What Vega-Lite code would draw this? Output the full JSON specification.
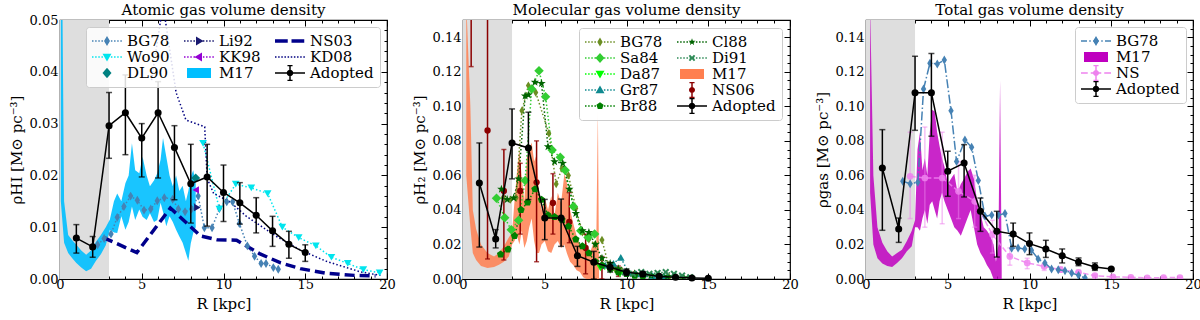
{
"$schema":"https://vega.github.io/schema/vega-lite/v6.json",
"background":"white",
"padding":{"left":8,"top":2,"right":0,"bottom":0},
"spacing":15,
"resolve":{"scale":{"color":"independent","shape":"independent"},"legend":{"color":"independent","shape":"independent"}},
"datasets":{
"p1":[
{"s":"Adopted","R":1,"v":0.0079,"lo":0.005,"hi":0.0105},
{"s":"Adopted","R":2,"v":0.0062,"lo":0.0042,"hi":0.0082},
{"s":"Adopted","R":3,"v":0.0296,"lo":0.0233,"hi":0.036},
{"s":"Adopted","R":4,"v":0.0321,"lo":0.024,"hi":0.0394},
{"s":"Adopted","R":5,"v":0.0272,"lo":0.0197,"hi":0.03},
{"s":"Adopted","R":6,"v":0.0321,"lo":0.0195,"hi":0.0381},
{"s":"Adopted","R":7,"v":0.0254,"lo":0.0153,"hi":0.0296},
{"s":"Adopted","R":8,"v":0.0184,"lo":0.0108,"hi":0.026},
{"s":"Adopted","R":9,"v":0.0197,"lo":0.0102,"hi":0.026},
{"s":"Adopted","R":10,"v":0.0167,"lo":0.0111,"hi":0.022},
{"s":"Adopted","R":11,"v":0.0147,"lo":0.0106,"hi":0.0186},
{"s":"Adopted","R":12,"v":0.0123,"lo":0.0089,"hi":0.0157},
{"s":"Adopted","R":13,"v":0.0093,"lo":0.0063,"hi":0.0121},
{"s":"Adopted","R":14,"v":0.0067,"lo":0.004,"hi":0.0092},
{"s":"Adopted","R":15,"v":0.0051,"lo":0.0034,"hi":0.0066},
{"s":"BG78","R":2.3,"v":0.0066},{"s":"BG78","R":2.7,"v":0.0078},{"s":"BG78","R":3.12,"v":0.0087},{"s":"BG78","R":3.5,"v":0.0119},
{"s":"BG78","R":3.91,"v":0.014},{"s":"BG78","R":4.32,"v":0.016},{"s":"BG78","R":4.73,"v":0.0152},{"s":"BG78","R":5.14,"v":0.0133},
{"s":"BG78","R":5.55,"v":0.0135},{"s":"BG78","R":5.95,"v":0.0151},{"s":"BG78","R":6.38,"v":0.0157},{"s":"BG78","R":6.89,"v":0.0154},
{"s":"BG78","R":7.24,"v":0.0135},{"s":"BG78","R":7.65,"v":0.013},{"s":"BG78","R":8.05,"v":0.0135},{"s":"BG78","R":8.45,"v":0.016},
{"s":"BG78","R":8.83,"v":0.0099},{"s":"BG78","R":9.3,"v":0.0099},{"s":"BG78","R":9.75,"v":0.0136},{"s":"BG78","R":10.2,"v":0.0149},
{"s":"BG78","R":10.56,"v":0.0149},{"s":"BG78","R":10.97,"v":0.0107},{"s":"BG78","R":11.46,"v":0.0064},{"s":"BG78","R":11.9,"v":0.0044},
{"s":"BG78","R":12.3,"v":0.003},{"s":"BG78","R":12.6,"v":0.003},{"s":"BG78","R":13.05,"v":0.0022},{"s":"BG78","R":13.35,"v":0.0019},
{"s":"Wo90","R":8.75,"v":0.0262},{"s":"Wo90","R":9.75,"v":0.0135},{"s":"Wo90","R":10.75,"v":0.0183},{"s":"Wo90","R":11.7,"v":0.0176},
{"s":"Wo90","R":12.7,"v":0.0165},{"s":"Wo90","R":13.6,"v":0.01},{"s":"Wo90","R":14.6,"v":0.008},{"s":"Wo90","R":15.65,"v":0.0064},
{"s":"Wo90","R":16.6,"v":0.0042},{"s":"Wo90","R":17.6,"v":0.003},{"s":"Wo90","R":18.55,"v":0.0018},{"s":"Wo90","R":19.55,"v":0.0012},
{"s":"DL90","R":8.3,"v":0.0195},
{"s":"Li92","R":8.4,"v":0.0138},
{"s":"KK98","R":8.3,"v":0.0172},
{"s":"KD08","R":5.6,"v":0.0384},{"s":"KD08","R":6.3,"v":0.053},{"s":"KD08","R":7.1,"v":0.036},{"s":"KD08","R":7.7,"v":0.0307},
{"s":"KD08","R":8.85,"v":0.0294},{"s":"KD08","R":9.0,"v":0.0194},{"s":"KD08","R":9.4,"v":0.0165},{"s":"KD08","R":10.4,"v":0.0149},
{"s":"KD08","R":11.4,"v":0.0121},{"s":"KD08","R":13.25,"v":0.0082},{"s":"KD08","R":14.7,"v":0.0056},{"s":"KD08","R":16.3,"v":0.0034},
{"s":"KD08","R":18.35,"v":0.0014},{"s":"KD08","R":19.6,"v":0.0007},
{"s":"NS03","R":2.65,"v":0.008},{"s":"NS03","R":4.7,"v":0.0051},{"s":"NS03","R":6.75,"v":0.0137},{"s":"NS03","R":8.6,"v":0.0083},
{"s":"NS03","R":9.6,"v":0.0076},{"s":"NS03","R":10.8,"v":0.0075},{"s":"NS03","R":12.2,"v":0.0049},{"s":"NS03","R":13.5,"v":0.0031},
{"s":"NS03","R":14.7,"v":0.002},{"s":"NS03","R":16.3,"v":0.0011},{"s":"NS03","R":18.0,"v":0.0007},{"s":"NS03","R":19.3,"v":0.0006},
{"s":"M17","R":0.05,"lo":0.015,"hi":0.09},{"s":"M17","R":0.25,"lo":0.007,"hi":0.015},{"s":"M17","R":0.5,"lo":0.005,"hi":0.0085},
{"s":"M17","R":0.75,"lo":0.004,"hi":0.0075},{"s":"M17","R":1.0,"lo":0.0031,"hi":0.0066},{"s":"M17","R":1.3,"lo":0.0022,"hi":0.0055},
{"s":"M17","R":1.6,"lo":0.0015,"hi":0.0047},{"s":"M17","R":1.9,"lo":0.002,"hi":0.0055},{"s":"M17","R":2.2,"lo":0.0035,"hi":0.0072},
{"s":"M17","R":2.5,"lo":0.0048,"hi":0.0085},{"s":"M17","R":2.8,"lo":0.0065,"hi":0.01},{"s":"M17","R":3.05,"lo":0.0095,"hi":0.0115},
{"s":"M17","R":3.3,"lo":0.009,"hi":0.015},{"s":"M17","R":3.5,"lo":0.0089,"hi":0.0165},{"s":"M17","R":3.75,"lo":0.0121,"hi":0.015},
{"s":"M17","R":4.0,"lo":0.0095,"hi":0.0185},{"s":"M17","R":4.2,"lo":0.011,"hi":0.02},{"s":"M17","R":4.4,"lo":0.014,"hi":0.0262},
{"s":"M17","R":4.6,"lo":0.0114,"hi":0.021},{"s":"M17","R":4.85,"lo":0.0134,"hi":0.0204},{"s":"M17","R":5.05,"lo":0.012,"hi":0.0236},
{"s":"M17","R":5.3,"lo":0.0114,"hi":0.02},{"s":"M17","R":5.5,"lo":0.0127,"hi":0.0179},{"s":"M17","R":5.75,"lo":0.011,"hi":0.019},
{"s":"M17","R":5.95,"lo":0.0114,"hi":0.0204},{"s":"M17","R":6.15,"lo":0.0147,"hi":0.023},{"s":"M17","R":6.3,"lo":0.013,"hi":0.0272},
{"s":"M17","R":6.5,"lo":0.0102,"hi":0.0236},{"s":"M17","R":6.7,"lo":0.0121,"hi":0.02},{"s":"M17","R":6.9,"lo":0.011,"hi":0.0179},
{"s":"M17","R":7.1,"lo":0.0095,"hi":0.02},{"s":"M17","R":7.3,"lo":0.0082,"hi":0.017},{"s":"M17","R":7.5,"lo":0.007,"hi":0.018},
{"s":"M17","R":7.7,"lo":0.005,"hi":0.015},{"s":"M17","R":7.85,"lo":0.0035,"hi":0.017},{"s":"M17","R":8.0,"lo":0.0069,"hi":0.0198},
{"s":"M17","R":8.15,"lo":0.0089,"hi":0.021},{"s":"M17","R":8.3,"lo":0.01,"hi":0.0185}
],
"p2":[
{"s":"Adopted","R":1,"v":0.0556,"lo":0.0185,"hi":0.0788},
{"s":"Adopted","R":2,"v":0.0232,"lo":0.018,"hi":0.0286},
{"s":"Adopted","R":3,"v":0.0788,"lo":0.058,"hi":0.0985},
{"s":"Adopted","R":4,"v":0.0759,"lo":0.046,"hi":0.0966},
{"s":"Adopted","R":5,"v":0.0353,"lo":0.0228,"hi":0.0461},
{"s":"Adopted","R":6,"v":0.0353,"lo":0.0189,"hi":0.0463},
{"s":"Adopted","R":7,"v":0.0135,"lo":0.0073,"hi":0.0189},
{"s":"Adopted","R":8,"v":0.0097,"lo":0.0,"hi":0.016},
{"s":"Adopted","R":9,"v":0.0068,"lo":0.004,"hi":0.0095},
{"s":"Adopted","R":10,"v":0.0039,"lo":0.002,"hi":0.0058},
{"s":"Adopted","R":11,"v":0.0029,"lo":0.0015,"hi":0.0043},
{"s":"Adopted","R":12,"v":0.0015,"lo":0.0008,"hi":0.0022},
{"s":"Adopted","R":13,"v":0.001,"lo":0.0006,"hi":0.0014},
{"s":"Adopted","R":14,"v":0.0006,"lo":0.0003,"hi":0.0009},
{"s":"Adopted","R":15,"v":0.0004,"lo":0.0002,"hi":0.0006},
{"s":"NS06","R":0.5,"v":0.17,"lo":0.123,"hi":0.2},
{"s":"NS06","R":1.5,"v":0.086,"lo":0.0116,"hi":0.17},
{"s":"NS06","R":2.5,"v":0.051,"lo":0.011,"hi":0.075},
{"s":"NS06","R":3.5,"v":0.051,"lo":0.026,"hi":0.067},
{"s":"NS06","R":4.5,"v":0.056,"lo":0.01,"hi":0.08},
{"s":"NS06","R":5.5,"v":0.044,"lo":0.026,"hi":0.061},
{"s":"NS06","R":6.5,"v":0.033,"lo":0.021,"hi":0.05},
{"s":"NS06","R":7.5,"v":0.018,"lo":0.003,"hi":0.026},
{"s":"NS06","R":8.5,"v":0.0075,"lo":0.0,"hi":0.013},
{"s":"NS06","R":9.5,"v":0.0045,"lo":0.0015,"hi":0.0075},
{"s":"NS06","R":10.5,"v":0.0025,"lo":0.001,"hi":0.004},
{"s":"BG78","R":2.45,"v":0.047},{"s":"BG78","R":2.9,"v":0.046},{"s":"BG78","R":3.25,"v":0.047},{"s":"BG78","R":3.6,"v":0.0975},
{"s":"BG78","R":4.0,"v":0.112},{"s":"BG78","R":4.45,"v":0.108},{"s":"BG78","R":5.25,"v":0.0844},{"s":"BG78","R":5.7,"v":0.055},
{"s":"BG78","R":6.05,"v":0.064},{"s":"BG78","R":6.45,"v":0.06},{"s":"BG78","R":6.9,"v":0.041},{"s":"BG78","R":7.3,"v":0.027},
{"s":"BG78","R":7.7,"v":0.023},{"s":"BG78","R":8.1,"v":0.02},{"s":"BG78","R":8.5,"v":0.0226},{"s":"BG78","R":8.9,"v":0.008},
{"s":"BG78","R":9.3,"v":0.006},{"s":"BG78","R":9.7,"v":0.005},{"s":"BG78","R":10.1,"v":0.004},{"s":"BG78","R":10.5,"v":0.003},
{"s":"BG78","R":11.0,"v":0.002},{"s":"BG78","R":11.5,"v":0.0015},{"s":"BG78","R":12.0,"v":0.001},{"s":"BG78","R":12.6,"v":0.001},
{"s":"BG78","R":13.0,"v":0.0008},{"s":"BG78","R":13.4,"v":0.0005},
{"s":"Sa84","R":2.05,"v":0.0467},{"s":"Sa84","R":2.55,"v":0.0355},{"s":"Sa84","R":2.95,"v":0.0285},{"s":"Sa84","R":3.4,"v":0.034},
{"s":"Sa84","R":3.8,"v":0.057},{"s":"Sa84","R":4.2,"v":0.11},{"s":"Sa84","R":4.65,"v":0.1206},{"s":"Sa84","R":5.05,"v":0.1056},
{"s":"Sa84","R":5.45,"v":0.0747},{"s":"Sa84","R":5.95,"v":0.0705},{"s":"Sa84","R":6.25,"v":0.063},{"s":"Sa84","R":6.75,"v":0.042},
{"s":"Sa84","R":7.2,"v":0.028},{"s":"Sa84","R":7.65,"v":0.024},{"s":"Sa84","R":8.05,"v":0.026},
{"s":"Cl88","R":2.35,"v":0.052},{"s":"Cl88","R":2.7,"v":0.046},{"s":"Cl88","R":3.1,"v":0.047},{"s":"Cl88","R":3.4,"v":0.058},
{"s":"Cl88","R":3.8,"v":0.106},{"s":"Cl88","R":4.0,"v":0.1066},{"s":"Cl88","R":4.4,"v":0.114},{"s":"Cl88","R":4.8,"v":0.1133},
{"s":"Cl88","R":5.2,"v":0.0766},{"s":"Cl88","R":5.6,"v":0.068},{"s":"Cl88","R":6.1,"v":0.067},{"s":"Cl88","R":6.5,"v":0.052},
{"s":"Cl88","R":6.9,"v":0.038},{"s":"Cl88","R":7.3,"v":0.028},{"s":"Cl88","R":7.7,"v":0.027},{"s":"Cl88","R":8.1,"v":0.02},
{"s":"Cl88","R":8.5,"v":0.012},{"s":"Cl88","R":9.0,"v":0.009},{"s":"Cl88","R":9.5,"v":0.006},{"s":"Cl88","R":10.0,"v":0.004},
{"s":"Cl88","R":10.5,"v":0.003},{"s":"Cl88","R":11.0,"v":0.0025},{"s":"Cl88","R":11.5,"v":0.002},{"s":"Cl88","R":12.0,"v":0.0018},
{"s":"Cl88","R":12.5,"v":0.0015},{"s":"Cl88","R":13.0,"v":0.001},{"s":"Cl88","R":13.5,"v":0.0008},{"s":"Cl88","R":14.0,"v":0.0005},
{"s":"Br88","R":2.3,"v":0.0143},{"s":"Br88","R":2.75,"v":0.0172},{"s":"Br88","R":3.15,"v":0.025},{"s":"Br88","R":3.55,"v":0.04},
{"s":"Br88","R":3.95,"v":0.0444},{"s":"Br88","R":4.4,"v":0.052},{"s":"Br88","R":4.8,"v":0.046},{"s":"Br88","R":5.2,"v":0.037},
{"s":"Br88","R":5.6,"v":0.036},{"s":"Br88","R":6.05,"v":0.0344},{"s":"Br88","R":6.45,"v":0.0305},{"s":"Br88","R":6.9,"v":0.023},
{"s":"Br88","R":7.3,"v":0.019},{"s":"Br88","R":7.7,"v":0.015},{"s":"Br88","R":8.1,"v":0.01},{"s":"Br88","R":8.5,"v":0.008},
{"s":"Br88","R":9.0,"v":0.006},{"s":"Br88","R":9.5,"v":0.004},{"s":"Br88","R":10.0,"v":0.003},{"s":"Br88","R":10.5,"v":0.002},
{"s":"Br88","R":11.0,"v":0.0015},{"s":"Br88","R":12.0,"v":0.001},
{"s":"Da87","R":8.4,"v":0.0065},{"s":"Da87","R":9.0,"v":0.005},{"s":"Da87","R":9.6,"v":0.003},
{"s":"Gr87","R":8.7,"v":0.008},{"s":"Gr87","R":9.2,"v":0.009},{"s":"Gr87","R":9.65,"v":0.0125},{"s":"Gr87","R":10.1,"v":0.004},
{"s":"Gr87","R":10.6,"v":0.003},{"s":"Gr87","R":11.1,"v":0.003},{"s":"Gr87","R":11.6,"v":0.002},{"s":"Gr87","R":12.3,"v":0.002},
{"s":"Gr87","R":13.0,"v":0.0015},
{"s":"Di91","R":9.9,"v":0.004},{"s":"Di91","R":10.4,"v":0.003},{"s":"Di91","R":10.9,"v":0.004},{"s":"Di91","R":11.4,"v":0.003},
{"s":"Di91","R":11.9,"v":0.0035},{"s":"Di91","R":12.4,"v":0.004},{"s":"Di91","R":12.9,"v":0.003},{"s":"Di91","R":13.4,"v":0.002},
{"s":"Di91","R":13.9,"v":0.001},
{"s":"M17","R":0.2,"lo":0.06,"hi":0.16},{"s":"M17","R":0.45,"lo":0.03,"hi":0.1},{"s":"M17","R":0.6,"lo":0.015,"hi":0.04},
{"s":"M17","R":0.8,"lo":0.011,"hi":0.029},{"s":"M17","R":1.1,"lo":0.0075,"hi":0.02},{"s":"M17","R":1.5,"lo":0.0064,"hi":0.015},
{"s":"M17","R":1.9,"lo":0.007,"hi":0.013},{"s":"M17","R":2.2,"lo":0.0083,"hi":0.015},{"s":"M17","R":2.5,"lo":0.01,"hi":0.019},
{"s":"M17","R":2.8,"lo":0.013,"hi":0.024},{"s":"M17","R":3.0,"lo":0.02,"hi":0.027},{"s":"M17","R":3.15,"lo":0.022,"hi":0.045},
{"s":"M17","R":3.3,"lo":0.025,"hi":0.062},{"s":"M17","R":3.45,"lo":0.02,"hi":0.075},{"s":"M17","R":3.6,"lo":0.028,"hi":0.058},
{"s":"M17","R":3.75,"lo":0.018,"hi":0.045},{"s":"M17","R":3.9,"lo":0.022,"hi":0.07},{"s":"M17","R":4.05,"lo":0.03,"hi":0.075},
{"s":"M17","R":4.2,"lo":0.035,"hi":0.079},{"s":"M17","R":4.35,"lo":0.022,"hi":0.068},{"s":"M17","R":4.5,"lo":0.015,"hi":0.072},
{"s":"M17","R":4.65,"lo":0.015,"hi":0.05},{"s":"M17","R":4.8,"lo":0.02,"hi":0.04},{"s":"M17","R":5.0,"lo":0.022,"hi":0.047},
{"s":"M17","R":5.2,"lo":0.016,"hi":0.04},{"s":"M17","R":5.4,"lo":0.015,"hi":0.048},{"s":"M17","R":5.6,"lo":0.02,"hi":0.037},
{"s":"M17","R":5.8,"lo":0.022,"hi":0.05},{"s":"M17","R":6.0,"lo":0.018,"hi":0.044},{"s":"M17","R":6.2,"lo":0.02,"hi":0.061},
{"s":"M17","R":6.35,"lo":0.015,"hi":0.056},{"s":"M17","R":6.55,"lo":0.01,"hi":0.04},{"s":"M17","R":6.75,"lo":0.008,"hi":0.032},
{"s":"M17","R":6.95,"lo":0.005,"hi":0.025},{"s":"M17","R":7.15,"lo":0.004,"hi":0.02},{"s":"M17","R":7.35,"lo":0.001,"hi":0.018},
{"s":"M17","R":7.55,"lo":0.0,"hi":0.021},{"s":"M17","R":7.75,"lo":0.0,"hi":0.015},{"s":"M17","R":7.95,"lo":0.0,"hi":0.02},
{"s":"M17","R":8.15,"lo":0.0,"hi":0.02},{"s":"M17","R":8.25,"lo":0.0,"hi":0.098},{"s":"M17","R":8.32,"lo":0.0,"hi":0.005}
],
"p3":[
{"s":"Adopted","R":1,"v":0.0643,"lo":0.0282,"hi":0.0865},
{"s":"Adopted","R":2,"v":0.029,"lo":0.0212,"hi":0.0353},
{"s":"Adopted","R":3,"v":0.1078,"lo":0.0861,"hi":0.129},
{"s":"Adopted","R":4,"v":0.1078,"lo":0.0827,"hi":0.1306},
{"s":"Adopted","R":5,"v":0.0624,"lo":0.0479,"hi":0.074},
{"s":"Adopted","R":6,"v":0.0672,"lo":0.0475,"hi":0.0778},
{"s":"Adopted","R":7,"v":0.0392,"lo":0.0276,"hi":0.0469},
{"s":"Adopted","R":8,"v":0.0276,"lo":0.0127,"hi":0.0392},
{"s":"Adopted","R":9,"v":0.026,"lo":0.0189,"hi":0.0324},
{"s":"Adopted","R":10,"v":0.0205,"lo":0.0141,"hi":0.0267},
{"s":"Adopted","R":11,"v":0.0174,"lo":0.0125,"hi":0.0224},
{"s":"Adopted","R":12,"v":0.0135,"lo":0.0093,"hi":0.0174},
{"s":"Adopted","R":13,"v":0.0098,"lo":0.0077,"hi":0.0122},
{"s":"Adopted","R":14,"v":0.007,"lo":0.005,"hi":0.0093},
{"s":"Adopted","R":15,"v":0.0058,"lo":0.0055,"hi":0.0061},
{"s":"BG78","R":2.25,"v":0.0566},{"s":"BG78","R":2.7,"v":0.0552},{"s":"BG78","R":3.17,"v":0.056},{"s":"BG78","R":3.52,"v":0.11},
{"s":"BG78","R":3.91,"v":0.125},{"s":"BG78","R":4.36,"v":0.1245},{"s":"BG78","R":4.79,"v":0.1268},{"s":"BG78","R":5.2,"v":0.0975},
{"s":"BG78","R":5.54,"v":0.068},{"s":"BG78","R":6.05,"v":0.0805},{"s":"BG78","R":6.46,"v":0.0763},{"s":"BG78","R":6.87,"v":0.057},
{"s":"BG78","R":7.28,"v":0.0363},{"s":"BG78","R":7.69,"v":0.037},{"s":"BG78","R":8.1,"v":0.037},{"s":"BG78","R":8.5,"v":0.038},
{"s":"BG78","R":8.91,"v":0.0178},{"s":"BG78","R":9.3,"v":0.018},{"s":"BG78","R":9.71,"v":0.0174},{"s":"BG78","R":10.12,"v":0.0166},
{"s":"BG78","R":10.53,"v":0.0116},{"s":"BG78","R":10.94,"v":0.0093},{"s":"BG78","R":11.35,"v":0.0058},{"s":"BG78","R":11.76,"v":0.0054},
{"s":"BG78","R":12.17,"v":0.0048},{"s":"BG78","R":12.58,"v":0.0035},{"s":"BG78","R":13.0,"v":0.0021},{"s":"BG78","R":13.4,"v":0.0006},
{"s":"NS","R":2.7,"v":0.0595,"lo":0.035,"hi":0.085},{"s":"NS","R":3.6,"v":0.0585,"lo":0.03,"hi":0.088},
{"s":"NS","R":4.66,"v":0.0585,"lo":0.032,"hi":0.085},{"s":"NS","R":5.66,"v":0.0508,"lo":0.035,"hi":0.068},
{"s":"NS","R":6.65,"v":0.045,"lo":0.03,"hi":0.06},{"s":"NS","R":7.73,"v":0.0257,"lo":0.015,"hi":0.034},
{"s":"NS","R":8.8,"v":0.0131,"lo":0.008,"hi":0.018},{"s":"NS","R":9.86,"v":0.0093,"lo":0.006,"hi":0.012},
{"s":"NS","R":10.9,"v":0.0073,"lo":0.005,"hi":0.009},{"s":"NS","R":11.9,"v":0.0054,"lo":0.004,"hi":0.007},
{"s":"NS","R":13.0,"v":0.0039,"lo":0.003,"hi":0.005},{"s":"NS","R":14.0,"v":0.0019,"lo":0.0012,"hi":0.0026},
{"s":"NS","R":15.1,"v":0.0012,"lo":0.0008,"hi":0.0016},{"s":"NS","R":16.2,"v":0.001,"lo":0.0007,"hi":0.0013},
{"s":"NS","R":17.2,"v":0.0006,"lo":0.0004,"hi":0.0008},{"s":"NS","R":18.2,"v":0.0008,"lo":0.0006,"hi":0.001},
{"s":"NS","R":19.2,"v":0.0008,"lo":0.0006,"hi":0.001},
{"s":"M17","R":0.25,"lo":0.05,"hi":0.16},{"s":"M17","R":0.45,"lo":0.02,"hi":0.06},{"s":"M17","R":0.7,"lo":0.012,"hi":0.03},
{"s":"M17","R":1.0,"lo":0.009,"hi":0.021},{"s":"M17","R":1.3,"lo":0.0075,"hi":0.016},{"s":"M17","R":1.6,"lo":0.007,"hi":0.013},
{"s":"M17","R":1.9,"lo":0.0093,"hi":0.015},{"s":"M17","R":2.2,"lo":0.012,"hi":0.017},{"s":"M17","R":2.5,"lo":0.016,"hi":0.022},
{"s":"M17","R":2.8,"lo":0.019,"hi":0.028},{"s":"M17","R":3.0,"lo":0.03,"hi":0.034},{"s":"M17","R":3.15,"lo":0.03,"hi":0.075},
{"s":"M17","R":3.3,"lo":0.028,"hi":0.085},{"s":"M17","R":3.45,"lo":0.035,"hi":0.063},{"s":"M17","R":3.6,"lo":0.04,"hi":0.07},
{"s":"M17","R":3.75,"lo":0.032,"hi":0.06},{"s":"M17","R":3.9,"lo":0.043,"hi":0.085},{"s":"M17","R":4.05,"lo":0.045,"hi":0.098},
{"s":"M17","R":4.2,"lo":0.04,"hi":0.097},{"s":"M17","R":4.35,"lo":0.035,"hi":0.085},{"s":"M17","R":4.5,"lo":0.045,"hi":0.077},
{"s":"M17","R":4.65,"lo":0.05,"hi":0.07},{"s":"M17","R":4.8,"lo":0.045,"hi":0.065},{"s":"M17","R":5.0,"lo":0.04,"hi":0.055},
{"s":"M17","R":5.2,"lo":0.035,"hi":0.058},{"s":"M17","R":5.4,"lo":0.03,"hi":0.061},{"s":"M17","R":5.6,"lo":0.028,"hi":0.05},
{"s":"M17","R":5.8,"lo":0.025,"hi":0.055},{"s":"M17","R":6.0,"lo":0.03,"hi":0.058},{"s":"M17","R":6.2,"lo":0.035,"hi":0.062},
{"s":"M17","R":6.4,"lo":0.04,"hi":0.064},{"s":"M17","R":6.6,"lo":0.03,"hi":0.058},{"s":"M17","R":6.8,"lo":0.02,"hi":0.045},
{"s":"M17","R":7.0,"lo":0.015,"hi":0.038},{"s":"M17","R":7.2,"lo":0.012,"hi":0.03},{"s":"M17","R":7.4,"lo":0.008,"hi":0.028},
{"s":"M17","R":7.6,"lo":0.005,"hi":0.025},{"s":"M17","R":7.8,"lo":0.0,"hi":0.02},{"s":"M17","R":7.95,"lo":0.0,"hi":0.01},
{"s":"M17","R":8.1,"lo":0.0,"hi":0.02},{"s":"M17","R":8.2,"lo":0.0,"hi":0.115},{"s":"M17","R":8.3,"lo":0.0,"hi":0.005}
]
},
"hconcat":[
{"width":327,"height":259,"title":"Atomic gas volume density",
"resolve":{"axis":{"x":"independent","y":"independent"}},
"layer":[
{"data":{"name":"p1"},"transform":[{"filter":"false"}],"mark":{"type":"point","filled":true,"opacity":1},
"encoding":{"x":{"field":"R","type":"quantitative","scale":{"domain":[0,20],"nice":false,"zero":false},
"axis":{"orient":"top","values":[0,1,2,3,4,5,6,7,8,9,10,11,12,13,14,15,16,17,18,19,20],"labels":false,"minExtent":0,"maxExtent":0,"tickSize":{"condition":{"test":"datum.value % 5 === 0","value":-6},"value":-3},"title":null}},
"y":{"field":"v","type":"quantitative","scale":{"domain":[0,0.05],"nice":false,"zero":false},
"axis":{"orient":"right","values":[0,0.002,0.004,0.006,0.008,0.01,0.012,0.014,0.016,0.018,0.02,0.022,0.024,0.026,0.028,0.03,0.032,0.034,0.036,0.038,0.04,0.042,0.044,0.046,0.048,0.05],"labels":false,"minExtent":0,"maxExtent":0,"tickSize":{"condition":{"test":"abs(datum.value*100 - round(datum.value*100)) < 0.001","value":-6},"value":-3},"title":null}},
"color":{"field":"s","type":"nominal","scale":{"domain":["BG78","Wo90","DL90","Li92","KK98","M17","NS03","KD08","Adopted"],"range":["#4682b4","#00e5ee","#008080","#191970","#9400d3","#00bfff","#00008b","#000080","#000000"]},
"legend":{"title":null,"orient":"top-right","offset":7,"columns":3}},
"shape":{"field":"s","type":"nominal","scale":{"domain":["BG78","Wo90","DL90","Li92","KK98","M17","NS03","KD08","Adopted"],"range":[
"M-1,-0.05h0.1v0.1h-0.1Z M-0.79,-0.05h0.1v0.1h-0.1Z M-0.58,-0.05h0.1v0.1h-0.1Z M-0.37,-0.05h0.1v0.1h-0.1Z M-0.16,-0.05h0.1v0.1h-0.1Z M0.05,-0.05h0.1v0.1h-0.1Z M0.26,-0.05h0.1v0.1h-0.1Z M0.47,-0.05h0.1v0.1h-0.1Z M0.68,-0.05h0.1v0.1h-0.1Z M0.89,-0.05h0.1v0.1h-0.1Z M0,-0.33L0.2,0L0,0.33L-0.2,0Z",
"M-1,-0.05h0.1v0.1h-0.1Z M-0.79,-0.05h0.1v0.1h-0.1Z M-0.58,-0.05h0.1v0.1h-0.1Z M-0.37,-0.05h0.1v0.1h-0.1Z M-0.16,-0.05h0.1v0.1h-0.1Z M0.05,-0.05h0.1v0.1h-0.1Z M0.26,-0.05h0.1v0.1h-0.1Z M0.47,-0.05h0.1v0.1h-0.1Z M0.68,-0.05h0.1v0.1h-0.1Z M0.89,-0.05h0.1v0.1h-0.1Z M-0.3,-0.22L0.3,-0.22L0,0.3Z",
"M0,-0.35L0.3,0L0,0.35L-0.3,0Z",
"M-1,-0.05h0.1v0.1h-0.1Z M-0.79,-0.05h0.1v0.1h-0.1Z M-0.58,-0.05h0.1v0.1h-0.1Z M-0.37,-0.05h0.1v0.1h-0.1Z M-0.16,-0.05h0.1v0.1h-0.1Z M0.05,-0.05h0.1v0.1h-0.1Z M0.26,-0.05h0.1v0.1h-0.1Z M0.47,-0.05h0.1v0.1h-0.1Z M0.68,-0.05h0.1v0.1h-0.1Z M0.89,-0.05h0.1v0.1h-0.1Z M-0.2,-0.3L0.3,0L-0.2,0.3Z",
"M-1,-0.05h0.1v0.1h-0.1Z M-0.79,-0.05h0.1v0.1h-0.1Z M-0.58,-0.05h0.1v0.1h-0.1Z M-0.37,-0.05h0.1v0.1h-0.1Z M-0.16,-0.05h0.1v0.1h-0.1Z M0.05,-0.05h0.1v0.1h-0.1Z M0.26,-0.05h0.1v0.1h-0.1Z M0.47,-0.05h0.1v0.1h-0.1Z M0.68,-0.05h0.1v0.1h-0.1Z M0.89,-0.05h0.1v0.1h-0.1Z M0.2,-0.3L0.2,0.3L-0.3,0Z",
"M-0.8,-0.33H0.8V0.33H-0.8Z",
"M-1,-0.12H-0.15V0.12H-1Z M0.1,-0.12H0.95V0.12H0.1Z",
"M-1,-0.05h0.1v0.1h-0.1Z M-0.79,-0.05h0.1v0.1h-0.1Z M-0.58,-0.05h0.1v0.1h-0.1Z M-0.37,-0.05h0.1v0.1h-0.1Z M-0.16,-0.05h0.1v0.1h-0.1Z M0.05,-0.05h0.1v0.1h-0.1Z M0.26,-0.05h0.1v0.1h-0.1Z M0.47,-0.05h0.1v0.1h-0.1Z M0.68,-0.05h0.1v0.1h-0.1Z M0.89,-0.05h0.1v0.1h-0.1Z",
"M-1,-0.05H1V0.05H-1Z M-0.05,-0.5H0.05V0.5H-0.05Z M-0.17,-0.55H0.17V-0.45H-0.17Z M-0.17,0.45H0.17V0.55H-0.17Z M-0.22,0A0.22,0.22 0 1,1 0.22,0A0.22,0.22 0 1,1 -0.22,0Z"
]},"legend":{"title":null,"orient":"top-right","offset":7,"columns":3}}}},
{"data":{"values":[{"a":0,"b":3}]},"mark":{"type":"rect","color":"#dedede"},
"encoding":{"x":{"field":"a","type":"quantitative","scale":{"domain":[0,20],"nice":false,"zero":false},
"axis":{"orient":"bottom","values":[0,1,2,3,4,5,6,7,8,9,10,11,12,13,14,15,16,17,18,19,20],"format":"d","labelExpr":"datum.value % 5 === 0 ? datum.label : ''","tickSize":{"condition":{"test":"datum.value % 5 === 0","value":-6},"value":-3},"labelPadding":5,"title":"R [kpc]","titlePadding":2}},
"x2":{"field":"b"}}},
{"data":{"name":"p1"},"transform":[{"filter":{"field":"s","equal":"M17"}}],"mark":{"type":"area","opacity":0.9,"clip":true},
"encoding":{"x":{"field":"R","type":"quantitative","scale":{"domain":[0,20],"nice":false,"zero":false},"axis":null},
"y":{"field":"lo","type":"quantitative","scale":{"domain":[0,0.05],"nice":false,"zero":false},"axis":null},"y2":{"field":"hi"},
"color":{"field":"s","type":"nominal","scale":{"domain":["BG78","Wo90","DL90","Li92","KK98","M17","NS03","KD08","Adopted"],"range":["#4682b4","#00e5ee","#008080","#191970","#9400d3","#00bfff","#00008b","#000080","#000000"]},"legend":null}}},
{"data":{"name":"p1"},"transform":[{"filter":{"field":"s","equal":"NS03"}}],"mark":{"type":"line","strokeWidth":3.5,"strokeDash":[10,5],"clip":true},
"encoding":{"x":{"field":"R","type":"quantitative","scale":{"domain":[0,20],"nice":false,"zero":false},"axis":null},
"y":{"field":"v","type":"quantitative","scale":{"domain":[0,0.05],"nice":false,"zero":false},"axis":null},
"color":{"field":"s","type":"nominal","scale":{"domain":["BG78","Wo90","DL90","Li92","KK98","M17","NS03","KD08","Adopted"],"range":["#4682b4","#00e5ee","#008080","#191970","#9400d3","#00bfff","#00008b","#000080","#000000"]},"legend":null}}},
{"data":{"name":"p1"},"transform":[{"filter":{"field":"s","oneOf":["BG78","Wo90","KD08"]}}],"mark":{"type":"line","strokeWidth":1.5,"strokeDash":[1.5,2.2],"clip":true},
"encoding":{"x":{"field":"R","type":"quantitative","scale":{"domain":[0,20],"nice":false,"zero":false},"axis":null},
"y":{"field":"v","type":"quantitative","scale":{"domain":[0,0.05],"nice":false,"zero":false},"axis":null},
"color":{"field":"s","type":"nominal","scale":{"domain":["BG78","Wo90","DL90","Li92","KK98","M17","NS03","KD08","Adopted"],"range":["#4682b4","#00e5ee","#008080","#191970","#9400d3","#00bfff","#00008b","#000080","#000000"]},"legend":null}}},
{"data":{"name":"p1"},"transform":[{"filter":{"field":"s","equal":"BG78"}}],"mark":{"type":"point","shape":"M0,-1L0.6,0L0,1L-0.6,0Z","filled":true,"opacity":1,"size":80,"clip":true},
"encoding":{"x":{"field":"R","type":"quantitative","scale":{"domain":[0,20],"nice":false,"zero":false},"axis":null},
"y":{"field":"v","type":"quantitative","scale":{"domain":[0,0.05],"nice":false,"zero":false},"axis":null},
"color":{"field":"s","type":"nominal","scale":{"domain":["BG78","Wo90","DL90","Li92","KK98","M17","NS03","KD08","Adopted"],"range":["#4682b4","#00e5ee","#008080","#191970","#9400d3","#00bfff","#00008b","#000080","#000000"]},"legend":null}}},
{"data":{"name":"p1"},"transform":[{"filter":{"field":"s","equal":"Wo90"}}],"mark":{"type":"point","shape":"triangle-down","filled":true,"opacity":1,"size":60,"clip":true},
"encoding":{"x":{"field":"R","type":"quantitative","scale":{"domain":[0,20],"nice":false,"zero":false},"axis":null},
"y":{"field":"v","type":"quantitative","scale":{"domain":[0,0.05],"nice":false,"zero":false},"axis":null},
"color":{"field":"s","type":"nominal","scale":{"domain":["BG78","Wo90","DL90","Li92","KK98","M17","NS03","KD08","Adopted"],"range":["#4682b4","#00e5ee","#008080","#191970","#9400d3","#00bfff","#00008b","#000080","#000000"]},"legend":null}}},
{"data":{"name":"p1"},"transform":[{"filter":{"field":"s","equal":"DL90"}}],"mark":{"type":"point","shape":"diamond","filled":true,"opacity":1,"size":80,"clip":true},
"encoding":{"x":{"field":"R","type":"quantitative","scale":{"domain":[0,20],"nice":false,"zero":false},"axis":null},
"y":{"field":"v","type":"quantitative","scale":{"domain":[0,0.05],"nice":false,"zero":false},"axis":null},
"color":{"field":"s","type":"nominal","scale":{"domain":["BG78","Wo90","DL90","Li92","KK98","M17","NS03","KD08","Adopted"],"range":["#4682b4","#00e5ee","#008080","#191970","#9400d3","#00bfff","#00008b","#000080","#000000"]},"legend":null}}},
{"data":{"name":"p1"},"transform":[{"filter":{"field":"s","equal":"Li92"}}],"mark":{"type":"point","shape":"triangle-right","filled":true,"opacity":1,"size":55,"clip":true},
"encoding":{"x":{"field":"R","type":"quantitative","scale":{"domain":[0,20],"nice":false,"zero":false},"axis":null},
"y":{"field":"v","type":"quantitative","scale":{"domain":[0,0.05],"nice":false,"zero":false},"axis":null},
"color":{"field":"s","type":"nominal","scale":{"domain":["BG78","Wo90","DL90","Li92","KK98","M17","NS03","KD08","Adopted"],"range":["#4682b4","#00e5ee","#008080","#191970","#9400d3","#00bfff","#00008b","#000080","#000000"]},"legend":null}}},
{"data":{"name":"p1"},"transform":[{"filter":{"field":"s","equal":"KK98"}}],"mark":{"type":"point","shape":"triangle-left","filled":true,"opacity":1,"size":55,"clip":true},
"encoding":{"x":{"field":"R","type":"quantitative","scale":{"domain":[0,20],"nice":false,"zero":false},"axis":null},
"y":{"field":"v","type":"quantitative","scale":{"domain":[0,0.05],"nice":false,"zero":false},"axis":null},
"color":{"field":"s","type":"nominal","scale":{"domain":["BG78","Wo90","DL90","Li92","KK98","M17","NS03","KD08","Adopted"],"range":["#4682b4","#00e5ee","#008080","#191970","#9400d3","#00bfff","#00008b","#000080","#000000"]},"legend":null}}},
{"data":{"name":"p1"},"transform":[{"filter":{"field":"s","equal":"Adopted"}}],"mark":{"type":"errorbar","ticks":{"size":6,"thickness":1.5,"color":"black"},"thickness":1.5,"color":"black"},
"encoding":{"x":{"field":"R","type":"quantitative","scale":{"domain":[0,20],"nice":false,"zero":false},"axis":null},
"y":{"field":"lo","type":"quantitative","scale":{"domain":[0,0.05],"nice":false,"zero":false},"axis":null},"y2":{"field":"hi"}}},
{"data":{"name":"p1"},"transform":[{"filter":{"field":"s","equal":"Adopted"}}],"mark":{"type":"line","strokeWidth":1.5,"color":"black"},
"encoding":{"x":{"field":"R","type":"quantitative","scale":{"domain":[0,20],"nice":false,"zero":false},"axis":null},
"y":{"field":"v","type":"quantitative","scale":{"domain":[0,0.05],"nice":false,"zero":false},
"axis":{"orient":"left","values":[0,0.002,0.004,0.006,0.008,0.01,0.012,0.014,0.016,0.018,0.02,0.022,0.024,0.026,0.028,0.03,0.032,0.034,0.036,0.038,0.04,0.042,0.044,0.046,0.048,0.05],"format":".2f","labelExpr":"abs(datum.value*100 - round(datum.value*100)) < 0.001 ? datum.label : ''","tickSize":{"condition":{"test":"abs(datum.value*100 - round(datum.value*100)) < 0.001","value":-6},"value":-3},"labelPadding":8,"title":"ρHI [M⊙ pc⁻³]","titlePadding":5}}}},
{"data":{"name":"p1"},"transform":[{"filter":{"field":"s","equal":"Adopted"}}],"mark":{"type":"point","shape":"circle","filled":true,"opacity":1,"size":50,"color":"black"},
"encoding":{"x":{"field":"R","type":"quantitative","scale":{"domain":[0,20],"nice":false,"zero":false},"axis":null},
"y":{"field":"v","type":"quantitative","scale":{"domain":[0,0.05],"nice":false,"zero":false},"axis":null}}}
]},
{"width":327,"height":259,"title":"Molecular gas volume density",
"resolve":{"axis":{"x":"independent","y":"independent"}},
"layer":[
{"data":{"name":"p2"},"transform":[{"filter":"false"}],"mark":{"type":"point","filled":true,"opacity":1},
"encoding":{"x":{"field":"R","type":"quantitative","scale":{"domain":[0,20],"nice":false,"zero":false},
"axis":{"orient":"top","values":[0,1,2,3,4,5,6,7,8,9,10,11,12,13,14,15,16,17,18,19,20],"labels":false,"minExtent":0,"maxExtent":0,"tickSize":{"condition":{"test":"datum.value % 5 === 0","value":-6},"value":-3},"title":null}},
"y":{"field":"v","type":"quantitative","scale":{"domain":[0,0.15],"nice":false,"zero":false},
"axis":{"orient":"right","values":[0,0.005,0.01,0.015,0.02,0.025,0.03,0.035,0.04,0.045,0.05,0.055,0.06,0.065,0.07,0.075,0.08,0.085,0.09,0.095,0.1,0.105,0.11,0.115,0.12,0.125,0.13,0.135,0.14,0.145,0.15],"labels":false,"minExtent":0,"maxExtent":0,"tickSize":{"condition":{"test":"abs(datum.value*50 - round(datum.value*50)) < 0.001","value":-6},"value":-3},"title":null}},
"color":{"field":"s","type":"nominal","scale":{"domain":["BG78","Sa84","Da87","Gr87","Br88","Cl88","Di91","M17","NS06","Adopted"],"range":["#6b8e23","#32cd32","#00ff00","#108a90","#008000","#006400","#2e8b57","#ff7f50","#8b0000","#000000"]},
"legend":{"title":null,"orient":"top-right","offset":8,"columns":2}},
"shape":{"field":"s","type":"nominal","scale":{"domain":["BG78","Sa84","Da87","Gr87","Br88","Cl88","Di91","M17","NS06","Adopted"],"range":[
"M-1,-0.05h0.1v0.1h-0.1Z M-0.79,-0.05h0.1v0.1h-0.1Z M-0.58,-0.05h0.1v0.1h-0.1Z M-0.37,-0.05h0.1v0.1h-0.1Z M-0.16,-0.05h0.1v0.1h-0.1Z M0.05,-0.05h0.1v0.1h-0.1Z M0.26,-0.05h0.1v0.1h-0.1Z M0.47,-0.05h0.1v0.1h-0.1Z M0.68,-0.05h0.1v0.1h-0.1Z M0.89,-0.05h0.1v0.1h-0.1Z M0,-0.3L0.18,0L0,0.3L-0.18,0Z",
"M-1,-0.05h0.1v0.1h-0.1Z M-0.79,-0.05h0.1v0.1h-0.1Z M-0.58,-0.05h0.1v0.1h-0.1Z M-0.37,-0.05h0.1v0.1h-0.1Z M-0.16,-0.05h0.1v0.1h-0.1Z M0.05,-0.05h0.1v0.1h-0.1Z M0.26,-0.05h0.1v0.1h-0.1Z M0.47,-0.05h0.1v0.1h-0.1Z M0.68,-0.05h0.1v0.1h-0.1Z M0.89,-0.05h0.1v0.1h-0.1Z M0,-0.33L0.3,0L0,0.33L-0.3,0Z",
"M-1,-0.05h0.1v0.1h-0.1Z M-0.79,-0.05h0.1v0.1h-0.1Z M-0.58,-0.05h0.1v0.1h-0.1Z M-0.37,-0.05h0.1v0.1h-0.1Z M-0.16,-0.05h0.1v0.1h-0.1Z M0.05,-0.05h0.1v0.1h-0.1Z M0.26,-0.05h0.1v0.1h-0.1Z M0.47,-0.05h0.1v0.1h-0.1Z M0.68,-0.05h0.1v0.1h-0.1Z M0.89,-0.05h0.1v0.1h-0.1Z M-0.3,-0.22L0.3,-0.22L0,0.3Z",
"M-1,-0.05h0.1v0.1h-0.1Z M-0.79,-0.05h0.1v0.1h-0.1Z M-0.58,-0.05h0.1v0.1h-0.1Z M-0.37,-0.05h0.1v0.1h-0.1Z M-0.16,-0.05h0.1v0.1h-0.1Z M0.05,-0.05h0.1v0.1h-0.1Z M0.26,-0.05h0.1v0.1h-0.1Z M0.47,-0.05h0.1v0.1h-0.1Z M0.68,-0.05h0.1v0.1h-0.1Z M0.89,-0.05h0.1v0.1h-0.1Z M0,-0.3L0.3,0.22L-0.3,0.22Z",
"M-1,-0.05h0.1v0.1h-0.1Z M-0.79,-0.05h0.1v0.1h-0.1Z M-0.58,-0.05h0.1v0.1h-0.1Z M-0.37,-0.05h0.1v0.1h-0.1Z M-0.16,-0.05h0.1v0.1h-0.1Z M0.05,-0.05h0.1v0.1h-0.1Z M0.26,-0.05h0.1v0.1h-0.1Z M0.47,-0.05h0.1v0.1h-0.1Z M0.68,-0.05h0.1v0.1h-0.1Z M0.89,-0.05h0.1v0.1h-0.1Z M0,-0.25L0.238,-0.077L0.147,0.202L-0.147,0.202L-0.238,-0.077Z",
"M-1,-0.05h0.1v0.1h-0.1Z M-0.79,-0.05h0.1v0.1h-0.1Z M-0.58,-0.05h0.1v0.1h-0.1Z M-0.37,-0.05h0.1v0.1h-0.1Z M-0.16,-0.05h0.1v0.1h-0.1Z M0.05,-0.05h0.1v0.1h-0.1Z M0.26,-0.05h0.1v0.1h-0.1Z M0.47,-0.05h0.1v0.1h-0.1Z M0.68,-0.05h0.1v0.1h-0.1Z M0.89,-0.05h0.1v0.1h-0.1Z M0,-0.25L0.059,-0.081L0.238,-0.077L0.095,0.031L0.147,0.202L0,0.1L-0.147,0.202L-0.095,0.031L-0.238,-0.077L-0.059,-0.081Z",
"M-1,-0.05h0.1v0.1h-0.1Z M-0.79,-0.05h0.1v0.1h-0.1Z M-0.58,-0.05h0.1v0.1h-0.1Z M-0.37,-0.05h0.1v0.1h-0.1Z M-0.16,-0.05h0.1v0.1h-0.1Z M0.05,-0.05h0.1v0.1h-0.1Z M0.26,-0.05h0.1v0.1h-0.1Z M0.47,-0.05h0.1v0.1h-0.1Z M0.68,-0.05h0.1v0.1h-0.1Z M0.89,-0.05h0.1v0.1h-0.1Z M-0.22,-0.13L-0.13,-0.22L0,-0.09L0.13,-0.22L0.22,-0.13L0.09,0L0.22,0.13L0.13,0.22L0,0.09L-0.13,0.22L-0.22,0.13L-0.09,0Z",
"M-0.8,-0.33H0.8V0.33H-0.8Z",
"M-0.05,-0.5H0.05V0.5H-0.05Z M-0.17,-0.55H0.17V-0.45H-0.17Z M-0.17,0.45H0.17V0.55H-0.17Z M-0.2,0A0.2,0.2 0 1,1 0.2,0A0.2,0.2 0 1,1 -0.2,0Z",
"M-1,-0.05H1V0.05H-1Z M-0.05,-0.5H0.05V0.5H-0.05Z M-0.17,-0.55H0.17V-0.45H-0.17Z M-0.17,0.45H0.17V0.55H-0.17Z M-0.22,0A0.22,0.22 0 1,1 0.22,0A0.22,0.22 0 1,1 -0.22,0Z"
]},"legend":{"title":null,"orient":"top-right","offset":8,"columns":2}}}},
{"data":{"values":[{"a":0,"b":3}]},"mark":{"type":"rect","color":"#dedede"},
"encoding":{"x":{"field":"a","type":"quantitative","scale":{"domain":[0,20],"nice":false,"zero":false},
"axis":{"orient":"bottom","values":[0,1,2,3,4,5,6,7,8,9,10,11,12,13,14,15,16,17,18,19,20],"format":"d","labelExpr":"datum.value % 5 === 0 ? datum.label : ''","tickSize":{"condition":{"test":"datum.value % 5 === 0","value":-6},"value":-3},"labelPadding":5,"title":"R [kpc]","titlePadding":2}},
"x2":{"field":"b"}}},
{"data":{"name":"p2"},"transform":[{"filter":{"field":"s","equal":"M17"}}],"mark":{"type":"area","opacity":0.85,"clip":true},
"encoding":{"x":{"field":"R","type":"quantitative","scale":{"domain":[0,20],"nice":false,"zero":false},"axis":null},
"y":{"field":"lo","type":"quantitative","scale":{"domain":[0,0.15],"nice":false,"zero":false},"axis":null},"y2":{"field":"hi"},
"color":{"field":"s","type":"nominal","scale":{"domain":["BG78","Sa84","Da87","Gr87","Br88","Cl88","Di91","M17","NS06","Adopted"],"range":["#6b8e23","#32cd32","#00ff00","#108a90","#008000","#006400","#2e8b57","#ff7f50","#8b0000","#000000"]},"legend":null}}},
{"data":{"name":"p2"},"transform":[{"filter":{"field":"s","oneOf":["BG78","Cl88","Sa84","Di91","Da87","Gr87","Br88"]}}],"mark":{"type":"line","strokeWidth":1.5,"strokeDash":[1.5,2.2],"clip":true},
"encoding":{"x":{"field":"R","type":"quantitative","scale":{"domain":[0,20],"nice":false,"zero":false},"axis":null},
"y":{"field":"v","type":"quantitative","scale":{"domain":[0,0.15],"nice":false,"zero":false},"axis":null},
"color":{"field":"s","type":"nominal","scale":{"domain":["BG78","Sa84","Da87","Gr87","Br88","Cl88","Di91","M17","NS06","Adopted"],"range":["#6b8e23","#32cd32","#00ff00","#108a90","#008000","#006400","#2e8b57","#ff7f50","#8b0000","#000000"]},"legend":null}}},
{"data":{"name":"p2"},"transform":[{"filter":{"field":"s","equal":"NS06"}}],"mark":{"type":"errorbar","ticks":{"size":5,"thickness":1.5,"color":"#8b0000"},"thickness":1.5,"color":"#8b0000","clip":true},
"encoding":{"x":{"field":"R","type":"quantitative","scale":{"domain":[0,20],"nice":false,"zero":false},"axis":null},
"y":{"field":"lo","type":"quantitative","scale":{"domain":[0,0.15],"nice":false,"zero":false},"axis":null},"y2":{"field":"hi"}}},
{"data":{"name":"p2"},"transform":[{"filter":{"field":"s","equal":"NS06"}}],"mark":{"type":"point","shape":"circle","filled":true,"opacity":1,"size":40,"clip":true},
"encoding":{"x":{"field":"R","type":"quantitative","scale":{"domain":[0,20],"nice":false,"zero":false},"axis":null},
"y":{"field":"v","type":"quantitative","scale":{"domain":[0,0.15],"nice":false,"zero":false},"axis":null},
"color":{"field":"s","type":"nominal","scale":{"domain":["BG78","Sa84","Da87","Gr87","Br88","Cl88","Di91","M17","NS06","Adopted"],"range":["#6b8e23","#32cd32","#00ff00","#108a90","#008000","#006400","#2e8b57","#ff7f50","#8b0000","#000000"]},"legend":null}}},
{"data":{"name":"p2"},"transform":[{"filter":{"field":"s","equal":"BG78"}}],"mark":{"type":"point","shape":"M0,-1L0.6,0L0,1L-0.6,0Z","filled":true,"opacity":1,"size":70,"clip":true},
"encoding":{"x":{"field":"R","type":"quantitative","scale":{"domain":[0,20],"nice":false,"zero":false},"axis":null},
"y":{"field":"v","type":"quantitative","scale":{"domain":[0,0.15],"nice":false,"zero":false},"axis":null},
"color":{"field":"s","type":"nominal","scale":{"domain":["BG78","Sa84","Da87","Gr87","Br88","Cl88","Di91","M17","NS06","Adopted"],"range":["#6b8e23","#32cd32","#00ff00","#108a90","#008000","#006400","#2e8b57","#ff7f50","#8b0000","#000000"]},"legend":null}}},
{"data":{"name":"p2"},"transform":[{"filter":{"field":"s","equal":"Sa84"}}],"mark":{"type":"point","shape":"diamond","filled":true,"opacity":1,"size":90,"clip":true},
"encoding":{"x":{"field":"R","type":"quantitative","scale":{"domain":[0,20],"nice":false,"zero":false},"axis":null},
"y":{"field":"v","type":"quantitative","scale":{"domain":[0,0.15],"nice":false,"zero":false},"axis":null},
"color":{"field":"s","type":"nominal","scale":{"domain":["BG78","Sa84","Da87","Gr87","Br88","Cl88","Di91","M17","NS06","Adopted"],"range":["#6b8e23","#32cd32","#00ff00","#108a90","#008000","#006400","#2e8b57","#ff7f50","#8b0000","#000000"]},"legend":null}}},
{"data":{"name":"p2"},"transform":[{"filter":{"field":"s","equal":"Da87"}}],"mark":{"type":"point","shape":"triangle-down","filled":true,"opacity":1,"size":60,"clip":true},
"encoding":{"x":{"field":"R","type":"quantitative","scale":{"domain":[0,20],"nice":false,"zero":false},"axis":null},
"y":{"field":"v","type":"quantitative","scale":{"domain":[0,0.15],"nice":false,"zero":false},"axis":null},
"color":{"field":"s","type":"nominal","scale":{"domain":["BG78","Sa84","Da87","Gr87","Br88","Cl88","Di91","M17","NS06","Adopted"],"range":["#6b8e23","#32cd32","#00ff00","#108a90","#008000","#006400","#2e8b57","#ff7f50","#8b0000","#000000"]},"legend":null}}},
{"data":{"name":"p2"},"transform":[{"filter":{"field":"s","equal":"Gr87"}}],"mark":{"type":"point","shape":"triangle-up","filled":true,"opacity":1,"size":60,"clip":true},
"encoding":{"x":{"field":"R","type":"quantitative","scale":{"domain":[0,20],"nice":false,"zero":false},"axis":null},
"y":{"field":"v","type":"quantitative","scale":{"domain":[0,0.15],"nice":false,"zero":false},"axis":null},
"color":{"field":"s","type":"nominal","scale":{"domain":["BG78","Sa84","Da87","Gr87","Br88","Cl88","Di91","M17","NS06","Adopted"],"range":["#6b8e23","#32cd32","#00ff00","#108a90","#008000","#006400","#2e8b57","#ff7f50","#8b0000","#000000"]},"legend":null}}},
{"data":{"name":"p2"},"transform":[{"filter":{"field":"s","equal":"Br88"}}],"mark":{"type":"point","shape":"M0,-1L0.951,-0.309L0.588,0.809L-0.588,0.809L-0.951,-0.309Z","filled":true,"opacity":1,"size":60,"clip":true},
"encoding":{"x":{"field":"R","type":"quantitative","scale":{"domain":[0,20],"nice":false,"zero":false},"axis":null},
"y":{"field":"v","type":"quantitative","scale":{"domain":[0,0.15],"nice":false,"zero":false},"axis":null},
"color":{"field":"s","type":"nominal","scale":{"domain":["BG78","Sa84","Da87","Gr87","Br88","Cl88","Di91","M17","NS06","Adopted"],"range":["#6b8e23","#32cd32","#00ff00","#108a90","#008000","#006400","#2e8b57","#ff7f50","#8b0000","#000000"]},"legend":null}}},
{"data":{"name":"p2"},"transform":[{"filter":{"field":"s","equal":"Cl88"}}],"mark":{"type":"point","shape":"M0,-1L0.235,-0.324L0.951,-0.309L0.38,0.124L0.588,0.809L0,0.4L-0.588,0.809L-0.38,0.124L-0.951,-0.309L-0.235,-0.324Z","filled":true,"opacity":1,"size":80,"clip":true},
"encoding":{"x":{"field":"R","type":"quantitative","scale":{"domain":[0,20],"nice":false,"zero":false},"axis":null},
"y":{"field":"v","type":"quantitative","scale":{"domain":[0,0.15],"nice":false,"zero":false},"axis":null},
"color":{"field":"s","type":"nominal","scale":{"domain":["BG78","Sa84","Da87","Gr87","Br88","Cl88","Di91","M17","NS06","Adopted"],"range":["#6b8e23","#32cd32","#00ff00","#108a90","#008000","#006400","#2e8b57","#ff7f50","#8b0000","#000000"]},"legend":null}}},
{"data":{"name":"p2"},"transform":[{"filter":{"field":"s","equal":"Di91"}}],"mark":{"type":"point","shape":"M-1,-0.6L-0.6,-1L0,-0.4L0.6,-1L1,-0.6L0.4,0L1,0.6L0.6,1L0,0.4L-0.6,1L-1,0.6L-0.4,0Z","filled":true,"opacity":1,"size":50,"clip":true},
"encoding":{"x":{"field":"R","type":"quantitative","scale":{"domain":[0,20],"nice":false,"zero":false},"axis":null},
"y":{"field":"v","type":"quantitative","scale":{"domain":[0,0.15],"nice":false,"zero":false},"axis":null},
"color":{"field":"s","type":"nominal","scale":{"domain":["BG78","Sa84","Da87","Gr87","Br88","Cl88","Di91","M17","NS06","Adopted"],"range":["#6b8e23","#32cd32","#00ff00","#108a90","#008000","#006400","#2e8b57","#ff7f50","#8b0000","#000000"]},"legend":null}}},
{"data":{"name":"p2"},"transform":[{"filter":{"field":"s","equal":"Adopted"}}],"mark":{"type":"errorbar","ticks":{"size":6,"thickness":1.5,"color":"black"},"thickness":1.5,"color":"black"},
"encoding":{"x":{"field":"R","type":"quantitative","scale":{"domain":[0,20],"nice":false,"zero":false},"axis":null},
"y":{"field":"lo","type":"quantitative","scale":{"domain":[0,0.15],"nice":false,"zero":false},"axis":null},"y2":{"field":"hi"}}},
{"data":{"name":"p2"},"transform":[{"filter":{"field":"s","equal":"Adopted"}}],"mark":{"type":"line","strokeWidth":1.5,"color":"black"},
"encoding":{"x":{"field":"R","type":"quantitative","scale":{"domain":[0,20],"nice":false,"zero":false},"axis":null},
"y":{"field":"v","type":"quantitative","scale":{"domain":[0,0.15],"nice":false,"zero":false},
"axis":{"orient":"left","values":[0,0.005,0.01,0.015,0.02,0.025,0.03,0.035,0.04,0.045,0.05,0.055,0.06,0.065,0.07,0.075,0.08,0.085,0.09,0.095,0.1,0.105,0.11,0.115,0.12,0.125,0.13,0.135,0.14,0.145,0.15],"format":".2f","labelExpr":"abs(datum.value*50 - round(datum.value*50)) < 0.001 ? datum.label : ''","tickSize":{"condition":{"test":"abs(datum.value*50 - round(datum.value*50)) < 0.001","value":-6},"value":-3},"labelPadding":8,"title":"ρH₂ [M⊙ pc⁻³]","titlePadding":5}}}},
{"data":{"name":"p2"},"transform":[{"filter":{"field":"s","equal":"Adopted"}}],"mark":{"type":"point","shape":"circle","filled":true,"opacity":1,"size":50,"color":"black"},
"encoding":{"x":{"field":"R","type":"quantitative","scale":{"domain":[0,20],"nice":false,"zero":false},"axis":null},
"y":{"field":"v","type":"quantitative","scale":{"domain":[0,0.15],"nice":false,"zero":false},"axis":null}}}
]},
{"width":327,"height":259,"title":"Total gas volume density",
"resolve":{"axis":{"x":"independent","y":"independent"}},
"layer":[
{"data":{"name":"p3"},"transform":[{"filter":"false"}],"mark":{"type":"point","filled":true,"opacity":1},
"encoding":{"x":{"field":"R","type":"quantitative","scale":{"domain":[0,20],"nice":false,"zero":false},
"axis":{"orient":"top","values":[0,1,2,3,4,5,6,7,8,9,10,11,12,13,14,15,16,17,18,19,20],"labels":false,"minExtent":0,"maxExtent":0,"tickSize":{"condition":{"test":"datum.value % 5 === 0","value":-6},"value":-3},"title":null}},
"y":{"field":"v","type":"quantitative","scale":{"domain":[0,0.15],"nice":false,"zero":false},
"axis":{"orient":"right","values":[0,0.005,0.01,0.015,0.02,0.025,0.03,0.035,0.04,0.045,0.05,0.055,0.06,0.065,0.07,0.075,0.08,0.085,0.09,0.095,0.1,0.105,0.11,0.115,0.12,0.125,0.13,0.135,0.14,0.145,0.15],"labels":false,"minExtent":0,"maxExtent":0,"tickSize":{"condition":{"test":"abs(datum.value*50 - round(datum.value*50)) < 0.001","value":-6},"value":-3},"title":null}},
"color":{"field":"s","type":"nominal","scale":{"domain":["BG78","M17","NS","Adopted"],"range":["#4682b4","#bf00bf","#ee82ee","#000000"]},
"legend":{"title":null,"orient":"top-right","offset":7,"columns":1}},
"shape":{"field":"s","type":"nominal","scale":{"domain":["BG78","M17","NS","Adopted"],"range":[
"M-1,-0.05H-0.6V0.05H-1Z M-0.45,-0.05H-0.35V0.05H-0.45Z M-0.2,-0.05H0.2V0.05H-0.2Z M0.35,-0.05H0.45V0.05H0.35Z M0.6,-0.05H1V0.05H0.6Z M0,-0.33L0.2,0L0,0.33L-0.2,0Z",
"M-0.8,-0.33H0.8V0.33H-0.8Z",
"M-1,-0.05H-0.55V0.05H-1Z M-0.35,-0.05H0.35V0.05H-0.35Z M0.55,-0.05H1V0.05H0.55Z M-0.05,-0.5H0.05V0.5H-0.05Z M-0.17,-0.55H0.17V-0.45H-0.17Z M-0.17,0.45H0.17V0.55H-0.17Z M-0.2,0A0.2,0.2 0 1,1 0.2,0A0.2,0.2 0 1,1 -0.2,0Z",
"M-1,-0.05H1V0.05H-1Z M-0.05,-0.5H0.05V0.5H-0.05Z M-0.17,-0.55H0.17V-0.45H-0.17Z M-0.17,0.45H0.17V0.55H-0.17Z M-0.22,0A0.22,0.22 0 1,1 0.22,0A0.22,0.22 0 1,1 -0.22,0Z"
]},"legend":{"title":null,"orient":"top-right","offset":7,"columns":1}}}},
{"data":{"values":[{"a":0,"b":3}]},"mark":{"type":"rect","color":"#dedede"},
"encoding":{"x":{"field":"a","type":"quantitative","scale":{"domain":[0,20],"nice":false,"zero":false},
"axis":{"orient":"bottom","values":[0,1,2,3,4,5,6,7,8,9,10,11,12,13,14,15,16,17,18,19,20],"format":"d","labelExpr":"datum.value % 5 === 0 ? datum.label : ''","tickSize":{"condition":{"test":"datum.value % 5 === 0","value":-6},"value":-3},"labelPadding":5,"title":"R [kpc]","titlePadding":2}},
"x2":{"field":"b"}}},
{"data":{"name":"p3"},"transform":[{"filter":{"field":"s","equal":"M17"}}],"mark":{"type":"area","opacity":0.85,"clip":true},
"encoding":{"x":{"field":"R","type":"quantitative","scale":{"domain":[0,20],"nice":false,"zero":false},"axis":null},
"y":{"field":"lo","type":"quantitative","scale":{"domain":[0,0.15],"nice":false,"zero":false},"axis":null},"y2":{"field":"hi"},
"color":{"field":"s","type":"nominal","scale":{"domain":["BG78","M17","NS","Adopted"],"range":["#4682b4","#bf00bf","#ee82ee","#000000"]},"legend":null}}},
{"data":{"name":"p3"},"transform":[{"filter":{"field":"s","equal":"NS"}}],"mark":{"type":"errorbar","ticks":{"size":5,"thickness":1.5,"color":"#ee82ee","opacity":0.5},"thickness":1.5,"color":"#ee82ee","opacity":0.5},
"encoding":{"x":{"field":"R","type":"quantitative","scale":{"domain":[0,20],"nice":false,"zero":false},"axis":null},
"y":{"field":"lo","type":"quantitative","scale":{"domain":[0,0.15],"nice":false,"zero":false},"axis":null},"y2":{"field":"hi"}}},
{"data":{"name":"p3"},"transform":[{"filter":{"field":"s","equal":"NS"}}],"mark":{"type":"line","strokeWidth":1.5,"strokeDash":[5.5,2.4],"opacity":0.85,"clip":true},
"encoding":{"x":{"field":"R","type":"quantitative","scale":{"domain":[0,20],"nice":false,"zero":false},"axis":null},
"y":{"field":"v","type":"quantitative","scale":{"domain":[0,0.15],"nice":false,"zero":false},"axis":null},
"color":{"field":"s","type":"nominal","scale":{"domain":["BG78","M17","NS","Adopted"],"range":["#4682b4","#bf00bf","#ee82ee","#000000"]},"legend":null}}},
{"data":{"name":"p3"},"transform":[{"filter":{"field":"s","equal":"NS"}}],"mark":{"type":"point","shape":"circle","filled":true,"opacity":0.85,"size":45,"clip":true},
"encoding":{"x":{"field":"R","type":"quantitative","scale":{"domain":[0,20],"nice":false,"zero":false},"axis":null},
"y":{"field":"v","type":"quantitative","scale":{"domain":[0,0.15],"nice":false,"zero":false},"axis":null},
"color":{"field":"s","type":"nominal","scale":{"domain":["BG78","M17","NS","Adopted"],"range":["#4682b4","#bf00bf","#ee82ee","#000000"]},"legend":null}}},
{"data":{"name":"p3"},"transform":[{"filter":{"field":"s","equal":"BG78"}}],"mark":{"type":"line","strokeWidth":1.5,"strokeDash":[9,2.5,1.5,2.5],"clip":true},
"encoding":{"x":{"field":"R","type":"quantitative","scale":{"domain":[0,20],"nice":false,"zero":false},"axis":null},
"y":{"field":"v","type":"quantitative","scale":{"domain":[0,0.15],"nice":false,"zero":false},"axis":null},
"color":{"field":"s","type":"nominal","scale":{"domain":["BG78","M17","NS","Adopted"],"range":["#4682b4","#bf00bf","#ee82ee","#000000"]},"legend":null}}},
{"data":{"name":"p3"},"transform":[{"filter":{"field":"s","equal":"BG78"}}],"mark":{"type":"point","shape":"M0,-1L0.6,0L0,1L-0.6,0Z","filled":true,"opacity":1,"size":80,"clip":true},
"encoding":{"x":{"field":"R","type":"quantitative","scale":{"domain":[0,20],"nice":false,"zero":false},"axis":null},
"y":{"field":"v","type":"quantitative","scale":{"domain":[0,0.15],"nice":false,"zero":false},"axis":null},
"color":{"field":"s","type":"nominal","scale":{"domain":["BG78","M17","NS","Adopted"],"range":["#4682b4","#bf00bf","#ee82ee","#000000"]},"legend":null}}},
{"data":{"name":"p3"},"transform":[{"filter":{"field":"s","equal":"Adopted"}}],"mark":{"type":"errorbar","ticks":{"size":6,"thickness":1.5,"color":"black"},"thickness":1.5,"color":"black"},
"encoding":{"x":{"field":"R","type":"quantitative","scale":{"domain":[0,20],"nice":false,"zero":false},"axis":null},
"y":{"field":"lo","type":"quantitative","scale":{"domain":[0,0.15],"nice":false,"zero":false},"axis":null},"y2":{"field":"hi"}}},
{"data":{"name":"p3"},"transform":[{"filter":{"field":"s","equal":"Adopted"}}],"mark":{"type":"line","strokeWidth":1.5,"color":"black"},
"encoding":{"x":{"field":"R","type":"quantitative","scale":{"domain":[0,20],"nice":false,"zero":false},"axis":null},
"y":{"field":"v","type":"quantitative","scale":{"domain":[0,0.15],"nice":false,"zero":false},
"axis":{"orient":"left","values":[0,0.005,0.01,0.015,0.02,0.025,0.03,0.035,0.04,0.045,0.05,0.055,0.06,0.065,0.07,0.075,0.08,0.085,0.09,0.095,0.1,0.105,0.11,0.115,0.12,0.125,0.13,0.135,0.14,0.145,0.15],"format":".2f","labelExpr":"abs(datum.value*50 - round(datum.value*50)) < 0.001 ? datum.label : ''","tickSize":{"condition":{"test":"abs(datum.value*50 - round(datum.value*50)) < 0.001","value":-6},"value":-3},"labelPadding":8,"title":"ρgas [M⊙ pc⁻³]","titlePadding":5}}}},
{"data":{"name":"p3"},"transform":[{"filter":{"field":"s","equal":"Adopted"}}],"mark":{"type":"point","shape":"circle","filled":true,"opacity":1,"size":50,"color":"black"},
"encoding":{"x":{"field":"R","type":"quantitative","scale":{"domain":[0,20],"nice":false,"zero":false},"axis":null},
"y":{"field":"v","type":"quantitative","scale":{"domain":[0,0.15],"nice":false,"zero":false},"axis":null}}}
]}
],
"config":{
"view":{"stroke":"black","strokeWidth":1.2},
"font":"DejaVu Serif",
"title":{"font":"DejaVu Serif","fontSize":15,"fontWeight":"normal","color":"black","offset":-4,"frame":"group"},
"axis":{"domain":false,"grid":false,"labelFont":"DejaVu Serif","labelFontSize":13,"labelColor":"black","titleFont":"DejaVu Serif","titleFontSize":15,"titleFontWeight":"normal","titleColor":"black","tickColor":"black","tickWidth":1,"labelOverlap":false,"labelFlush":false,"labelBound":false},
"legend":{"labelFont":"DejaVu Serif","labelFontSize":15,"labelColor":"black","symbolStrokeWidth":0,"symbolSize":900,"clipHeight":16,"labelOffset":5,"rowPadding":0,"columnPadding":14,"padding":6,"strokeColor":"#cccccc","fillColor":"rgba(255,255,255,0.85)","cornerRadius":3,"labelLimit":300,"symbolOpacity":1}
}
}
